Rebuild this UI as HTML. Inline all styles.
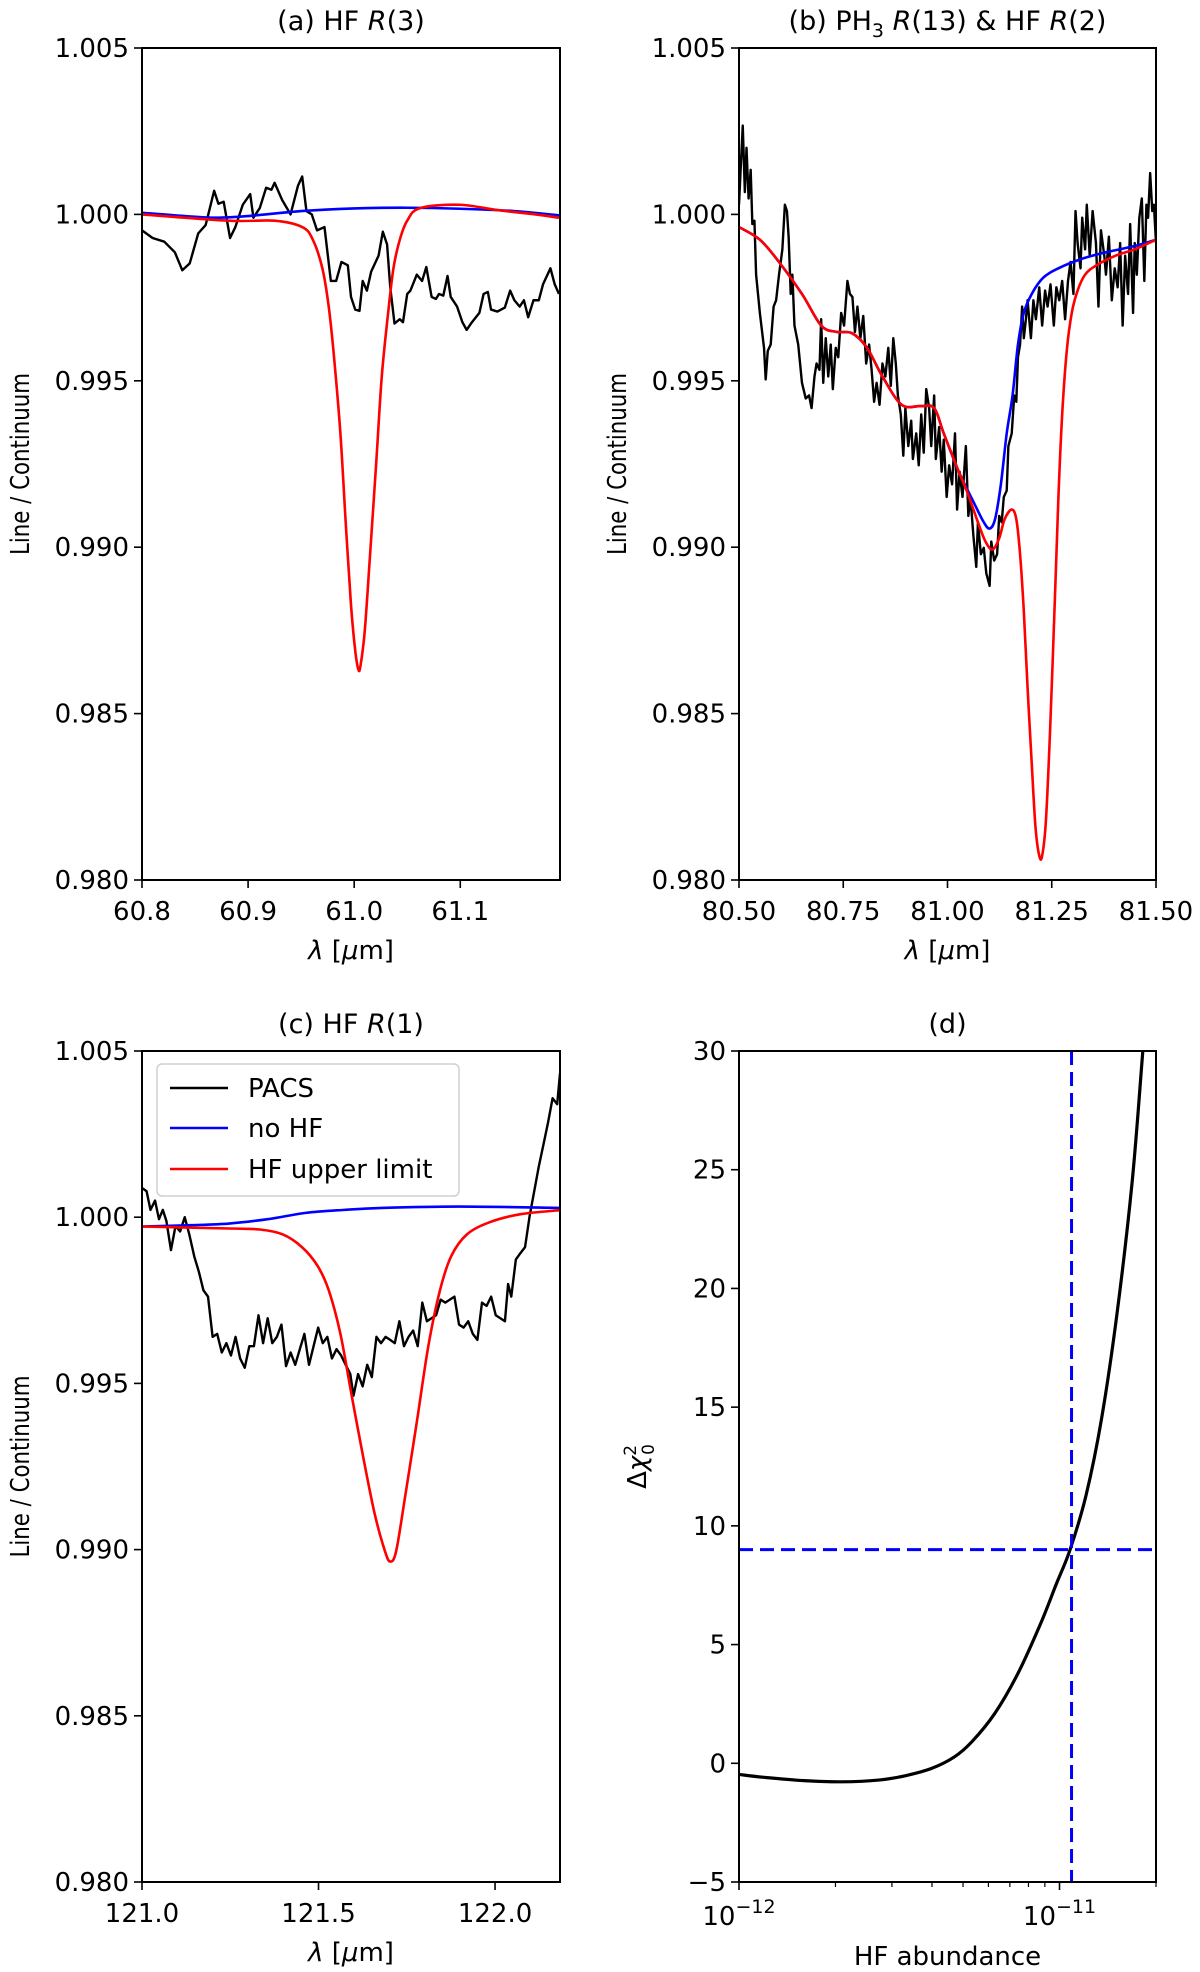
<!DOCTYPE html>
<html><head><meta charset="utf-8">
<style>
html,body{margin:0;padding:0;background:#fff;}
svg{display:block;font-family:"DejaVu Sans","Liberation Sans",sans-serif;}
</style></head>
<body>
<svg id="fig" width="1200" height="1972" viewBox="0 0 1200 1972" xmlns="http://www.w3.org/2000/svg"></svg>
<script>
// ---------- Panel (a) data ----------
const aPacsX=[60.800,60.810,60.821,60.831,60.838,60.845,60.853,60.860,60.868,60.872,60.877,60.883,60.888,60.895,60.902,60.905,60.911,60.917,60.922,60.925,60.932,60.940,60.947,60.951,60.955,60.960,60.965,60.972,60.978,60.983,60.988,60.994,60.997,61.001,61.005,61.008,61.012,61.016,61.023,61.027,61.031,61.034,61.038,61.043,61.046,61.050,61.053,61.059,61.064,61.068,61.073,61.077,61.080,61.084,61.088,61.091,61.097,61.102,61.106,61.111,61.118,61.122,61.126,61.129,61.135,61.142,61.147,61.151,61.156,61.160,61.164,61.169,61.174,61.178,61.185,61.189,61.193];
const aPacsY=[0.99952,0.99929,0.99918,0.99886,0.99832,0.99853,0.99943,0.99968,1.00071,1.00032,1.00038,0.99929,0.99962,1.00029,1.00061,0.99990,1.00019,1.00080,1.00074,1.00095,1.00044,1.00000,1.00086,1.00114,1.00010,1.00000,0.99952,0.99962,0.99800,0.99800,0.99857,0.99847,0.99752,0.99714,0.99710,0.99800,0.99771,0.99828,0.99876,0.99948,0.99910,0.99781,0.99672,0.99685,0.99676,0.99761,0.99771,0.99819,0.99800,0.99842,0.99752,0.99746,0.99761,0.99756,0.99815,0.99752,0.99723,0.99676,0.99653,0.99676,0.99704,0.99761,0.99767,0.99714,0.99708,0.99720,0.99771,0.99742,0.99723,0.99742,0.99691,0.99742,0.99742,0.99790,0.99838,0.99790,0.99761];
const aBlueX=[60.8,60.84,60.87,60.9,60.95,61.0,61.05,61.1,61.15,61.194];
const aBlueY=[1.00005,0.99995,0.9999,0.99995,1.0001,1.00018,1.0002,1.00017,1.0001,0.99997];
const aRedX=[60.800,60.882,60.925,60.951,60.961,60.970,60.976,60.981,60.987,60.992,60.997,61.001,61.004,61.006,61.010,61.015,61.021,61.026,61.032,61.037,61.043,61.050,61.062,61.099,61.135,61.171,61.193];
const aRedY=[1.0000,0.99981,0.99981,0.99962,0.99924,0.99838,0.99723,0.99571,0.99342,0.99075,0.98826,0.98689,0.98632,0.98645,0.98750,0.98979,0.99265,0.99513,0.99704,0.99838,0.99924,0.99981,1.00019,1.00029,1.00013,1.0000,0.9999];
const aXTicks=[60.8,60.9,61.0,61.1];
const aXTickLabels=["60.8","60.9","61.0","61.1"];
// ---------- Panel (b) data ----------
const bPacsX=[80.500,80.505,80.509,80.514,80.518,80.523,80.528,80.532,80.537,80.541,80.550,80.560,80.564,80.569,80.576,80.583,80.589,80.596,80.604,80.610,80.615,80.619,80.624,80.628,80.633,80.642,80.651,80.660,80.668,80.674,80.681,80.686,80.693,80.697,80.702,80.708,80.714,80.720,80.725,80.732,80.738,80.745,80.752,80.760,80.766,80.772,80.778,80.784,80.791,80.798,80.805,80.812,80.818,80.824,80.830,80.837,80.844,80.851,80.858,80.864,80.870,80.876,80.881,80.888,80.894,80.899,80.906,80.913,80.917,80.925,80.931,80.937,80.943,80.949,80.956,80.961,80.968,80.972,80.980,80.986,80.991,80.998,81.004,81.011,81.018,81.023,81.029,81.036,81.044,81.050,81.055,81.062,81.069,81.073,81.080,81.087,81.093,81.101,81.105,81.112,81.119,81.124,81.130,81.135,81.142,81.146,81.154,81.160,81.165,81.169,81.174,81.179,81.183,81.188,81.192,81.200,81.206,81.212,81.220,81.227,81.234,81.240,81.247,81.255,81.261,81.268,81.275,81.282,81.289,81.295,81.302,81.307,81.312,81.319,81.323,81.330,81.334,81.341,81.348,81.356,81.362,81.368,81.376,81.380,81.387,81.394,81.401,81.408,81.414,81.420,81.426,81.433,81.438,81.445,81.449,81.454,81.460,81.466,81.472,81.477,81.481,81.486,81.491,81.495,81.500];
const bPacsY=[1.00029,1.00162,1.00267,1.00067,1.00200,1.00048,1.00134,0.99971,0.99981,0.99819,0.99704,0.99599,0.99504,0.99590,0.99609,0.99723,0.99742,0.99819,0.99895,1.00029,1.00010,0.99933,0.99761,0.99819,0.99666,0.99609,0.99494,0.99447,0.99456,0.99418,0.99513,0.99552,0.99533,0.99685,0.99494,0.99628,0.99513,0.99609,0.99475,0.99599,0.99571,0.99704,0.99666,0.99800,0.99761,0.99752,0.99647,0.99723,0.99628,0.99695,0.99552,0.99609,0.99533,0.99437,0.99494,0.99428,0.99552,0.99513,0.99599,0.99485,0.99628,0.99552,0.99456,0.99399,0.99275,0.99418,0.99304,0.99380,0.99265,0.99342,0.99246,0.99399,0.99284,0.99475,0.99418,0.99304,0.99456,0.99265,0.99361,0.99227,0.99323,0.99151,0.99246,0.99189,0.99342,0.99113,0.99227,0.99151,0.99304,0.99094,0.99151,0.99036,0.98941,0.99075,0.98979,0.98998,0.98922,0.98884,0.99017,0.98960,0.98979,0.99094,0.99075,0.99151,0.99170,0.99304,0.99342,0.99456,0.99437,0.99571,0.99609,0.99723,0.99628,0.99685,0.99742,0.99628,0.99742,0.99685,0.99781,0.99666,0.99771,0.99723,0.99790,0.99666,0.99781,0.99742,0.99800,0.99685,0.99800,0.99857,0.99761,1.00010,0.99914,0.99838,0.99990,0.99895,1.00029,0.99876,1.00010,0.99914,0.99723,0.99952,0.99876,0.99819,0.99933,0.99742,0.99838,0.99781,0.99914,0.99666,0.99876,0.99761,0.99971,0.99704,0.99914,0.99819,0.99990,1.00048,0.99800,1.00029,0.99990,1.00124,1.00010,1.00029,0.99914];
const bBlueX=[80.500,80.550,80.596,80.651,80.697,80.734,80.771,80.807,80.844,80.890,80.936,80.968,80.991,81.027,81.064,81.087,81.101,81.114,81.128,81.142,81.156,81.169,81.183,81.202,81.229,81.266,81.321,81.376,81.449,81.500];
const bBlueY=[0.99962,0.99924,0.99857,0.99761,0.99666,0.99647,0.99643,0.99599,0.99513,0.99428,0.99424,0.99418,0.99342,0.99227,0.99132,0.99075,0.99056,0.99084,0.99189,0.99342,0.99456,0.99609,0.99704,0.99761,0.99809,0.99838,0.99866,0.99885,0.99905,0.99924];
const bRedX=[80.500,80.550,80.596,80.651,80.697,80.734,80.771,80.807,80.844,80.890,80.936,80.968,80.991,81.027,81.046,81.073,81.091,81.108,81.124,81.137,81.154,81.165,81.174,81.183,81.192,81.202,81.211,81.220,81.227,81.236,81.246,81.257,81.266,81.275,81.286,81.298,81.312,81.330,81.357,81.403,81.449,81.500];
const bRedY=[0.99962,0.99924,0.99857,0.99761,0.99666,0.99647,0.99643,0.99599,0.99513,0.99428,0.99424,0.99418,0.99342,0.99227,0.99170,0.99075,0.99017,0.98993,0.99027,0.99084,0.99113,0.99084,0.98979,0.98808,0.98579,0.98350,0.98159,0.98073,0.98073,0.98178,0.98449,0.98827,0.99151,0.99399,0.99590,0.99704,0.99771,0.99819,0.99847,0.99876,0.99895,0.99924];
const bXTicks=[80.5,80.75,81.0,81.25,81.5];
const bXTickLabels=["80.50","80.75","81.00","81.25","81.50"];
// ---------- Panel (c) data ----------
const cPacsX=[121.000,121.013,121.024,121.037,121.048,121.059,121.069,121.082,121.095,121.108,121.121,121.134,121.148,121.161,121.174,121.187,121.200,121.213,121.226,121.239,121.252,121.265,121.278,121.291,121.304,121.317,121.330,121.343,121.356,121.369,121.382,121.395,121.408,121.421,121.434,121.447,121.460,121.473,121.486,121.499,121.512,121.525,121.538,121.551,121.564,121.577,121.590,121.599,121.612,121.625,121.638,121.651,121.664,121.677,121.690,121.703,121.716,121.729,121.742,121.755,121.768,121.781,121.794,121.807,121.820,121.833,121.846,121.859,121.872,121.885,121.898,121.911,121.924,121.937,121.950,121.963,121.976,121.989,122.002,122.015,122.028,122.037,122.046,122.059,122.072,122.085,122.098,122.111,122.124,122.137,122.150,122.163,122.176,122.184];
const cPacsY=[1.00088,1.00078,1.00022,1.00050,0.99994,1.00022,0.99989,0.99901,0.99974,0.99957,1.00000,0.99948,0.99882,0.99836,0.99780,0.99761,0.99640,0.99649,0.99593,0.99621,0.99584,0.99640,0.99575,0.99547,0.99612,0.99612,0.99705,0.99621,0.99696,0.99621,0.99640,0.99677,0.99552,0.99593,0.99556,0.99603,0.99649,0.99556,0.99612,0.99668,0.99621,0.99640,0.99575,0.99603,0.99584,0.99556,0.99528,0.99463,0.99528,0.99491,0.99556,0.99519,0.99640,0.99621,0.99640,0.99631,0.99621,0.99687,0.99612,0.99640,0.99659,0.99612,0.99743,0.99687,0.99696,0.99705,0.99752,0.99743,0.99752,0.99761,0.99677,0.99668,0.99687,0.99649,0.99631,0.99743,0.99733,0.99761,0.99705,0.99696,0.99687,0.99799,0.99761,0.99873,0.99892,0.99910,1.00004,1.00078,1.00153,1.00218,1.00284,1.00358,1.00340,1.00433];
const cBlueX=[121.000,121.139,121.247,121.356,121.464,121.573,121.681,121.898,122.184];
const cBlueY=[0.99972,0.99976,0.99981,0.99994,1.00013,1.00022,1.00028,1.00032,1.00028];
const cRedX=[121.000,121.247,121.334,121.399,121.453,121.497,121.529,121.562,121.594,121.627,121.659,121.688,121.703,121.720,121.746,121.779,121.811,121.844,121.876,121.920,121.985,122.072,122.184];
const cRedY=[0.99972,0.99966,0.99963,0.99948,0.99910,0.99854,0.99780,0.99649,0.99463,0.99276,0.99108,0.98996,0.98964,0.98996,0.99164,0.99388,0.99612,0.99780,0.99883,0.99948,0.99985,1.00009,1.00021];
const cXTicks=[121.0,121.5,122.0];
const cXTickLabels=["121.0","121.5","122.0"];
// shared y ticks for spectra
const specYTicks=[0.980,0.985,0.990,0.995,1.000,1.005];
const specYTickLabels=["0.980","0.985","0.990","0.995","1.000","1.005"];
// ---------- Panel (d) data ----------
const dLogAbund=[-12.000,-11.917,-11.798,-11.679,-11.560,-11.480,-11.400,-11.330,-11.274,-11.202,-11.131,-11.060,-11.010,-10.967,-10.917,-10.869,-10.821,-10.774,-10.743,-10.735];
const dChi2=[-0.47,-0.60,-0.73,-0.78,-0.70,-0.52,-0.22,0.25,0.90,2.10,3.75,5.85,7.55,9.0,11.3,14.5,18.9,24.4,29.5,31.0];
const dLimitLog=-10.9625;
const dChiThreshold=9;
const dYTicks=[-5,0,5,10,15,20,25,30];
const dYTickLabels=["\u22125","0","5","10","15","20","25","30"];
const dMajorLog=[-12,-11];
const dMajorExp=["\u221212","\u221211"];
const dMinorMult=[2,3,4,5,6,7,8,9];

const NS="http://www.w3.org/2000/svg";
const svg=document.getElementById('fig');
function mk(tag,attrs,parent){const e=document.createElementNS(NS,tag);for(const k in attrs)e.setAttribute(k,attrs[k]);(parent||svg).appendChild(e);return e;}
function lin(d0,d1,p0,p1){return v=>p0+(v-d0)/(d1-d0)*(p1-p0);}
function pathD(xs,ys,sx,sy){let s='';for(let i=0;i<xs.length;i++){s+=(i?'L':'M')+sx(xs[i]).toFixed(2)+','+sy(ys[i]).toFixed(2);}return s;}
function smoothD(xs,ys,sx,sy){
  const P=xs.map((x,i)=>[sx(x),sy(ys[i])]);
  let s='M'+P[0][0].toFixed(2)+','+P[0][1].toFixed(2);
  for(let i=0;i<P.length-1;i++){
    const p0=P[Math.max(0,i-1)],p1=P[i],p2=P[i+1],p3=P[Math.min(P.length-1,i+2)];
    const c1=[p1[0]+(p2[0]-p0[0])/6,p1[1]+(p2[1]-p0[1])/6];
    const c2=[p2[0]-(p3[0]-p1[0])/6,p2[1]-(p3[1]-p1[1])/6];
    s+='C'+c1[0].toFixed(2)+','+c1[1].toFixed(2)+' '+c2[0].toFixed(2)+','+c2[1].toFixed(2)+' '+p2[0].toFixed(2)+','+p2[1].toFixed(2);
  }
  return s;
}

function axesFrame(g,L,T,R,B){
  const fr=mk('rect',{x:L,y:T,width:R-L,height:B-T,fill:'none',stroke:'#000','stroke-width':2},g);
  
  
}
function yTicks(g,vals,labels,sy,L){
  vals.forEach((v,i)=>{
    const y=sy(v);
    const t=mk('line',{x1:L-8,x2:L,y1:y,y2:y,stroke:'#000','stroke-width':1.6},g);
    
    
    const tx=mk('text',{x:L-13,y:y+9,'text-anchor':'end','font-size':26},g);
    tx.textContent=labels[i];
    
    
  });
}
function xTicks(g,vals,labels,sx,B){
  vals.forEach((v,i)=>{
    const x=sx(v);
    const t=mk('line',{x1:x,x2:x,y1:B,y2:B+8,stroke:'#000','stroke-width':1.6},g);
    
    
    const tx=mk('text',{x:x,y:B+40,'text-anchor':'middle','font-size':26},g);
    tx.textContent=labels[i];
    
    
  });
}
function series(g,xs,ys,sx,sy,color,name,w,smooth){
  const p=mk('path',{d:smooth?smoothD(xs,ys,sx,sy):pathD(xs,ys,sx,sy),fill:'none',stroke:color,'stroke-width':w||2.5,'stroke-linejoin':'round'},g);
  
  
}
function title(g,cx,y,html,name){
  const t=mk('text',{x:cx,y:y,'text-anchor':'middle','font-size':27},g);
  t.innerHTML=html;
  
  
}
function ylab(g,x,cy,txt){
  const t=mk('text',{x:0,y:0,'text-anchor':'middle','font-size':26,transform:`translate(${x},${cy}) rotate(-90) scale(0.82,1)`},g);
  t.textContent=txt;
  
  
}
function xlab(g,cx,y){
  const t=mk('text',{x:cx,y:y,'text-anchor':'middle','font-size':26},g);
  t.innerHTML='<tspan font-style="italic">\u03bb</tspan> [<tspan font-style="italic">\u03bc</tspan>m]';
  
  
}
function spectrum(name,L,T,R,B,xmin,xmax,xt,xtl,pacs,blue,red,ttl){
  const g=mk('g',{});
  
  
  const sx=lin(xmin,xmax,L,R), sy=lin(0.98,1.005,B,T);
  const cid=name+'-clip';
  const cp=mk('clipPath',{id:cid},g); mk('rect',{x:L,y:T,width:R-L,height:B-T},cp);
  const inner=mk('g',{'clip-path':`url(#${cid})`},g);
  series(inner,pacs[0],pacs[1],sx,sy,'#000','pacs-line',2.4,false);
  series(inner,blue[0],blue[1],sx,sy,'#0000ff','no-hf-line',2.6,true);
  series(inner,red[0],red[1],sx,sy,'#ff0000','hf-upper-limit-line',2.6,true);
  axesFrame(g,L,T,R,B);
  yTicks(g,specYTicks,specYTickLabels,sy,L);
  xTicks(g,xt,xtl,sx,B);
  title(g,(L+R)/2,T-18,ttl,'panel-title');
  ylab(g,L-113,(T+B)/2,'Line / Continuum');
  xlab(g,(L+R)/2,B+79);
  return g;
}
spectrum('panel-a',142,48,560,880,60.8,61.194,aXTicks,aXTickLabels,[aPacsX,aPacsY],[aBlueX,aBlueY],[aRedX,aRedY],'(a) HF <tspan font-style="italic">R</tspan>(3)');
spectrum('panel-b',739,48,1156,880,80.5,81.5,bXTicks,bXTickLabels,[bPacsX,bPacsY],[bBlueX,bBlueY],[bRedX,bRedY],'(b) PH<tspan font-size="19" dy="7">3</tspan><tspan dy="-7"> </tspan><tspan font-style="italic">R</tspan>(13) &amp; HF <tspan font-style="italic">R</tspan>(2)');
const gc=spectrum('panel-c',142,1051,560,1882,121.0,122.184,cXTicks,cXTickLabels,[cPacsX,cPacsY],[cBlueX,cBlueY],[cRedX,cRedY],'(c) HF <tspan font-style="italic">R</tspan>(1)');

// legend in panel c
const lg=mk('g',{},gc);


mk('rect',{x:157,y:1064,width:302,height:132,rx:5,fill:'#fff','fill-opacity':0.8,stroke:'#d0d0d0','stroke-width':1.5},lg);
[['PACS','#000',1092],['no HF','#0000ff',1132],['HF upper limit','#ff0000',1173]].forEach(e=>{
  const en=mk('g',{},lg);
  
  
  mk('line',{x1:170,x2:228,y1:e[2]-4,y2:e[2]-4,stroke:e[1],'stroke-width':2.4},en);
  const t=mk('text',{x:248,y:e[2]+5,'font-size':26},en);
  t.textContent=e[0];
});

// panel d
(function(){
  const L=739,T=1051,R=1156,B=1882;
  const g=mk('g',{});
  
  
  const lxmax=Math.log10(2e-11);
  const sx=lin(-12,lxmax,L,R), sy=lin(-5,30,B,T);
  const cp=mk('clipPath',{id:'dclip'},g); mk('rect',{x:L,y:T,width:R-L,height:B-T},cp);
  const inner=mk('g',{'clip-path':'url(#dclip)'},g);
  series(inner,dLogAbund,dChi2,sx,sy,'#000','delta-chi2-curve',3.2,true);
  const hl=mk('line',{x1:L,x2:R,y1:sy(dChiThreshold),y2:sy(dChiThreshold),stroke:'#0000ff','stroke-width':3,'stroke-dasharray':'14,7'},inner);
  
  
  const vl=mk('line',{x1:sx(dLimitLog),x2:sx(dLimitLog),y1:T,y2:B,stroke:'#0000ff','stroke-width':3,'stroke-dasharray':'14,7'},inner);
  
  
  axesFrame(g,L,T,R,B);
  yTicks(g,dYTicks,dYTickLabels,sy,L);
  dMajorLog.forEach((v,i)=>{
    const x=sx(v);
    const t=mk('line',{x1:x,x2:x,y1:B,y2:B+8,stroke:'#000','stroke-width':1.6},g);
    
    
    const tx=mk('text',{x:x,y:B+43,'text-anchor':'middle','font-size':26},g);
    tx.innerHTML='10<tspan font-size="19" dy="-12">'+dMajorExp[i]+'</tspan>';
    
    
  });
  [-12,-11].forEach(dec=>dMinorMult.forEach(m=>{
    const lv=dec+Math.log10(m);
    if(lv>lxmax+1e-6)return;
    const x=sx(lv);
    const t=mk('line',{x1:x,x2:x,y1:B,y2:B+5,stroke:'#000','stroke-width':1.2},g);
    
    
  }));
  title(g,(L+R)/2,T-18,'(d)','panel-title');
  const yl=mk('text',{x:0,y:0,'text-anchor':'middle','font-size':26,transform:`translate(${L-93},${(T+B)/2}) rotate(-90)`},g);
  yl.innerHTML='\u0394<tspan font-style="italic">\u03c7</tspan><tspan font-size="17" dy="-10">2</tspan><tspan font-size="17" dx="-10" dy="18">0</tspan>';
  
  
  const xl=mk('text',{x:(L+R)/2,y:1965,'text-anchor':'middle','font-size':26},g);
  xl.textContent='HF abundance';
  
  
})();
</script>
</body></html>
